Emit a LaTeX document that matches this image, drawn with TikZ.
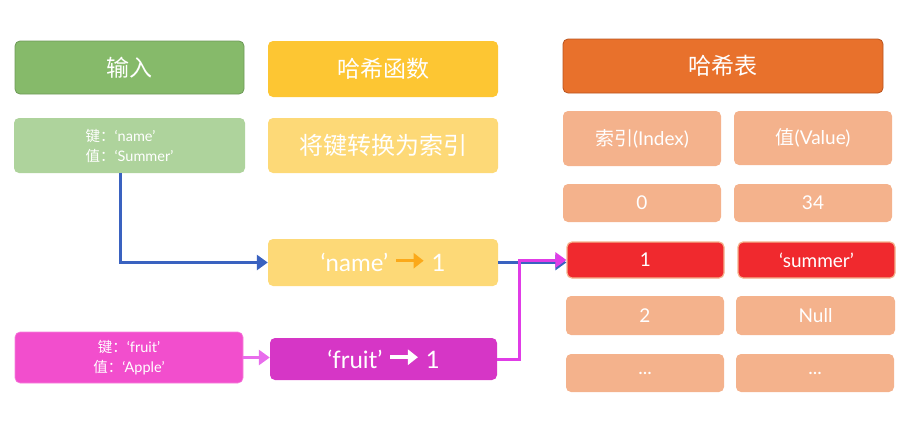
\documentclass[tikz,border=0pt]{standalone}
\usepackage{fontspec}
\setmainfont{Lato}
\newfontfamily\cjk{Noto Sans CJK SC}
\usetikzlibrary{arrows.meta}
\definecolor{gIn}{HTML}{86BA6A}
\definecolor{gInB}{HTML}{6E9A58}
\definecolor{gKv}{HTML}{AED39C}
\definecolor{yHf}{HTML}{FDC633}
\definecolor{yLt}{HTML}{FDD977}
\definecolor{pKv}{HTML}{F24ECD}
\definecolor{pFr}{HTML}{D636C6}
\definecolor{oHt}{HTML}{E8712C}
\definecolor{oHtB}{HTML}{B85420}
\definecolor{oCell}{HTML}{F4B28C}
\definecolor{rCell}{HTML}{F0292E}
\definecolor{bLine}{HTML}{3A62C0}
\definecolor{pLine}{HTML}{E03CE6}
\definecolor{arrOr}{HTML}{FBA91A}
\newcommand{\fatarr}[1]{\tikz[baseline=-0.5ex]\draw[#1, line width=3.5pt, -{Triangle[length=10pt,width=15pt]}] (0,0.2em) -- (1.15em,0.2em);}
\tikzset{
  box/.style={rounded corners=5pt, inner sep=0pt, text=white, align=center},
  big/.style={font=\fontsize{23}{25}\selectfont},
  bigger/.style={font=\fontsize{24}{26}\selectfont},
  mid/.style={font=\fontsize{19}{22}\selectfont},
  small/.style={font=\fontsize{14.5}{20}\selectfont},
  cell/.style={box, fill=oCell, mid},
  redcell/.style={box, fill=rCell, draw=oCell, line width=1.2pt, mid},
  conn/.style={line width=3pt, -{Triangle[length=11pt,width=15pt]}},
}
\begin{document}
\begin{tikzpicture}[x=1pt,y=-1pt]
\useasboundingbox (0,0) rectangle (907,439);
% column 1
\node[box, fill=gIn, draw=gInB, line width=0.8pt, big, minimum width=229pt, minimum height=53pt] (in) at (129.5,67.5) {\cjk 输入};
\node[box, fill=gKv, small, minimum width=231pt, minimum height=55pt, align=left] (kv1) at (129.5,145.5) {{\cjk 键：}‘name’\\{\cjk 值：}‘Summer’};
\node[box, fill=pKv, draw=pKv!70!white, line width=0.6pt, small, minimum width=228pt, minimum height=51pt] (kv2) at (129,357.5) {{\cjk 键：}‘fruit’\\{\cjk 值：}‘Apple’};
% column 2
\node[box, fill=yHf, big, minimum width=230pt, minimum height=56pt] (hf) at (383,69) {\cjk 哈希函数};
\node[box, fill=yLt, bigger, minimum width=230pt, minimum height=55pt] (conv) at (383,145.5) {\cjk 将键转换为索引};
\node[box, fill=yLt, bigger, minimum width=230pt, minimum height=47pt] (nm) at (383,262.5) {‘name’ \fatarr{arrOr} 1};
\node[box, fill=pFr, bigger, minimum width=227pt, minimum height=42pt] (fr) at (383.5,359) {‘fruit’ \fatarr{white} 1};
% column 3
\node[box, fill=oHt, draw=oHtB, line width=0.8pt, big, minimum width=320pt, minimum height=54pt] (ht) at (723,66) {\cjk 哈希表};
\node[cell, minimum width=158pt, minimum height=55pt] (idx) at (642,138.5) {{\cjk 索引}(Index)};
\node[cell, minimum width=158pt, minimum height=54pt] (val) at (813,138) {{\cjk 值}(Value)};
\node[cell, minimum width=158pt, minimum height=38pt] (i0) at (642,203) {0};
\node[cell, minimum width=158pt, minimum height=38pt] (v0) at (813,203) {34};
\node[redcell, minimum width=157pt, minimum height=36pt] (i1) at (645.5,260) {1};
\node[redcell, minimum width=157pt, minimum height=36pt] (v1) at (816.5,260) {‘summer’};
\node[cell, minimum width=158pt, minimum height=39pt] (i2) at (645,315.5) {2};
\node[cell, minimum width=159pt, minimum height=39pt] (v2) at (815.5,315.5) {Null};
\node[cell, minimum width=158pt, minimum height=38pt] (i3) at (645,373) {...};
\node[cell, minimum width=158pt, minimum height=38pt] (v3) at (815,373) {...};
% connectors
\draw[conn, bLine] ([xshift=-9.5pt]kv1.south) |- (nm.west);
\draw[conn, bLine] (nm.east) -- (i1.west |- nm.east);
\draw[conn, pLine] (fr.east) -- ++(22,0) coordinate (bend) |- (i1.west);
\draw[conn, pLine!75!white] (kv2.east) -- (fr.west |- kv2.east);
\end{tikzpicture}
\end{document}
